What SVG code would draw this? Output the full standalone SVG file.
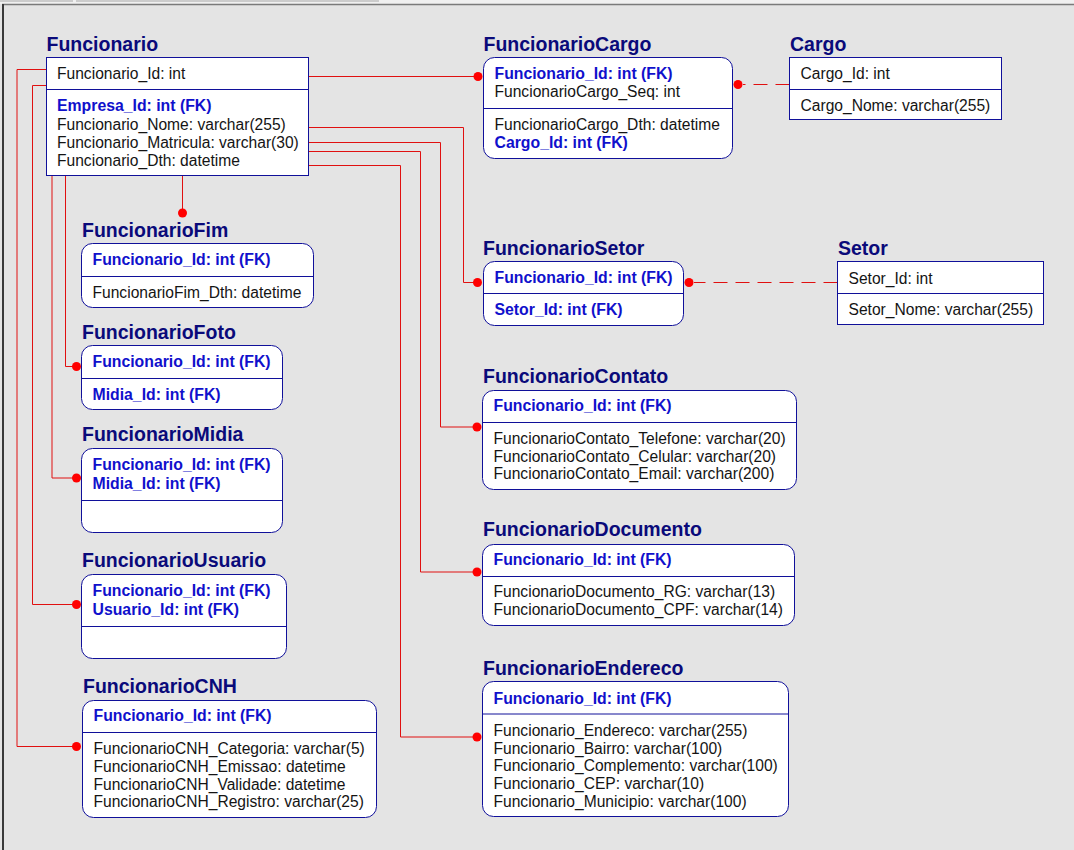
<svg xmlns="http://www.w3.org/2000/svg" width="1074" height="850" viewBox="0 0 1074 850">
<style>
.title{font-family:"Liberation Sans",Arial,sans-serif;font-weight:bold;font-size:19.5px;fill:#0a0a7a}
.attr{font-family:"Liberation Sans",Arial,sans-serif;font-size:15.6px;fill:#141414}
.fk{font-family:"Liberation Sans",Arial,sans-serif;font-weight:bold;font-size:15.8px;fill:#1010cc}
.box{fill:#ffffff;stroke:#10109a;stroke-width:1}
.sep{stroke:#10109a;stroke-width:1}
.conn{fill:none;stroke:#e01010;stroke-width:1}
.dash{fill:none;stroke:#e01010;stroke-width:1;stroke-dasharray:14 8}
.dot{fill:#ff0000}
</style>
<rect x="0" y="0" width="1074" height="850" fill="#e4e4e4"/>
<rect x="0" y="0" width="1074" height="4" fill="#f0f0f0"/>
<path d="M0,1 H73 M76,1 H379" stroke="#a8a8a8" stroke-width="1"/>
<line x1="2" y1="4.5" x2="1074" y2="4.5" stroke="#7a7a7a" stroke-width="1.5"/>
<rect x="2" y="4" width="2" height="846" fill="#3a3a3a"/>

<g id="connectors">
  <path class="conn" d="M308,76.5 H478"/>
  <circle class="dot" cx="478" cy="76.5" r="4.5"/>
  <path class="conn" d="M308,127.5 H463.5 V282.5 H477"/>
  <circle class="dot" cx="477.5" cy="282.5" r="4.5"/>
  <path class="conn" d="M308,142.5 H440.5 V427 H477"/>
  <circle class="dot" cx="477" cy="427" r="4.5"/>
  <path class="conn" d="M308,151.5 H420.5 V572 H477"/>
  <circle class="dot" cx="477" cy="572" r="4.5"/>
  <path class="conn" d="M308,165.5 H400.5 V737 H477"/>
  <circle class="dot" cx="477" cy="737" r="4.5"/>
  <path class="conn" d="M182.5,175 V213"/>
  <circle class="dot" cx="182.5" cy="213" r="4.5"/>
  <path class="conn" d="M65.5,175 V366.5 H76"/>
  <circle class="dot" cx="76.5" cy="366.5" r="4.5"/>
  <path class="conn" d="M52,175 V478 H76"/>
  <circle class="dot" cx="76.5" cy="478" r="4.5"/>
  <path class="conn" d="M46,85.5 H32.5 V604.5 H76"/>
  <circle class="dot" cx="76.5" cy="604.5" r="4.5"/>
  <path class="conn" d="M46,69.5 H17 V746.5 H76"/>
  <circle class="dot" cx="76.5" cy="746.5" r="4.5"/>
  <path class="dash" d="M789.5,84.5 H743"/>
  <circle class="dot" cx="738" cy="84.5" r="4.5"/>
  <path class="dash" d="M837.5,282.5 H694"/>
  <circle class="dot" cx="689" cy="282.5" r="4.5"/>
</g>

<g id="Funcionario">
  <text class="title" x="46.5" y="51">Funcionario</text>
  <rect class="box" x="46.5" y="57.5" width="262" height="118"/>
  <line class="sep" x1="46.5" y1="89.5" x2="308.5" y2="89.5"/>
  <text class="attr" x="57" y="79">Funcionario_Id: int</text>
  <text class="fk" x="57" y="111">Empresa_Id: int (FK)</text>
  <text class="attr" x="57" y="129.5">Funcionario_Nome: varchar(255)</text>
  <text class="attr" x="57" y="147.5">Funcionario_Matricula: varchar(30)</text>
  <text class="attr" x="57" y="165.5">Funcionario_Dth: datetime</text>
</g>

<g id="FuncionarioCargo">
  <text class="title" x="483.5" y="51">FuncionarioCargo</text>
  <rect class="box" x="483.5" y="57.5" width="249" height="101" rx="11"/>
  <line class="sep" x1="483.5" y1="108.5" x2="732.5" y2="108.5"/>
  <text class="fk" x="494.5" y="78.5">Funcionario_Id: int (FK)</text>
  <text class="attr" x="494.5" y="96.5">FuncionarioCargo_Seq: int</text>
  <text class="attr" x="494.5" y="129.5">FuncionarioCargo_Dth: datetime</text>
  <text class="fk" x="494.5" y="147.5">Cargo_Id: int (FK)</text>
</g>

<g id="Cargo">
  <text class="title" x="790" y="51">Cargo</text>
  <rect class="box" x="789.5" y="57.5" width="212" height="62"/>
  <line class="sep" x1="789.5" y1="89.5" x2="1001.5" y2="89.5"/>
  <text class="attr" x="800.5" y="78.5">Cargo_Id: int</text>
  <text class="attr" x="800.5" y="110.5">Cargo_Nome: varchar(255)</text>
</g>

<g id="FuncionarioSetor">
  <text class="title" x="483" y="255">FuncionarioSetor</text>
  <rect class="box" x="483.5" y="261.5" width="200" height="64" rx="11"/>
  <line class="sep" x1="483.5" y1="293.5" x2="683.5" y2="293.5"/>
  <text class="fk" x="494.5" y="283">Funcionario_Id: int (FK)</text>
  <text class="fk" x="494.5" y="315">Setor_Id: int (FK)</text>
</g>

<g id="Setor">
  <text class="title" x="838" y="255">Setor</text>
  <rect class="box" x="837.5" y="261.5" width="206" height="63"/>
  <line class="sep" x1="837.5" y1="293.5" x2="1043.5" y2="293.5"/>
  <text class="attr" x="848.5" y="283.5">Setor_Id: int</text>
  <text class="attr" x="848.5" y="315">Setor_Nome: varchar(255)</text>
</g>

<g id="FuncionarioFim">
  <text class="title" x="82" y="236.5">FuncionarioFim</text>
  <rect class="box" x="81.5" y="243.5" width="232" height="64" rx="11"/>
  <line class="sep" x1="81.5" y1="276.5" x2="313.5" y2="276.5"/>
  <text class="fk" x="92.5" y="264.5">Funcionario_Id: int (FK)</text>
  <text class="attr" x="92.5" y="298">FuncionarioFim_Dth: datetime</text>
</g>

<g id="FuncionarioFoto">
  <text class="title" x="82" y="338.5">FuncionarioFoto</text>
  <rect class="box" x="81.5" y="345.5" width="201" height="64" rx="11"/>
  <line class="sep" x1="81.5" y1="378.5" x2="282.5" y2="378.5"/>
  <text class="fk" x="92.5" y="366.5">Funcionario_Id: int (FK)</text>
  <text class="fk" x="92.5" y="400">Midia_Id: int (FK)</text>
</g>

<g id="FuncionarioMidia">
  <text class="title" x="82" y="441">FuncionarioMidia</text>
  <rect class="box" x="81.5" y="448.5" width="201" height="84" rx="11"/>
  <line class="sep" x1="81.5" y1="500.5" x2="282.5" y2="500.5"/>
  <text class="fk" x="92.5" y="470">Funcionario_Id: int (FK)</text>
  <text class="fk" x="92.5" y="488.5">Midia_Id: int (FK)</text>
</g>

<g id="FuncionarioUsuario">
  <text class="title" x="82" y="567">FuncionarioUsuario</text>
  <rect class="box" x="81.5" y="574.5" width="205" height="84" rx="11"/>
  <line class="sep" x1="81.5" y1="626.5" x2="286.5" y2="626.5"/>
  <text class="fk" x="92.5" y="596">Funcionario_Id: int (FK)</text>
  <text class="fk" x="92.5" y="614.5">Usuario_Id: int (FK)</text>
</g>

<g id="FuncionarioCNH">
  <text class="title" x="83" y="692.5">FuncionarioCNH</text>
  <rect class="box" x="82.5" y="700.5" width="294" height="117" rx="11"/>
  <line class="sep" x1="82.5" y1="732.5" x2="376.5" y2="732.5"/>
  <text class="fk" x="93.5" y="720.5">Funcionario_Id: int (FK)</text>
  <text class="attr" x="93.5" y="754">FuncionarioCNH_Categoria: varchar(5)</text>
  <text class="attr" x="93.5" y="771.8">FuncionarioCNH_Emissao: datetime</text>
  <text class="attr" x="93.5" y="789.5">FuncionarioCNH_Validade: datetime</text>
  <text class="attr" x="93.5" y="807.3">FuncionarioCNH_Registro: varchar(25)</text>
</g>

<g id="FuncionarioContato">
  <text class="title" x="483" y="382.5">FuncionarioContato</text>
  <rect class="box" x="482.5" y="390.5" width="314" height="99" rx="11"/>
  <line class="sep" x1="482.5" y1="422.5" x2="796.5" y2="422.5"/>
  <text class="fk" x="493.5" y="411">Funcionario_Id: int (FK)</text>
  <text class="attr" x="493.5" y="444">FuncionarioContato_Telefone: varchar(20)</text>
  <text class="attr" x="493.5" y="461.7">FuncionarioContato_Celular: varchar(20)</text>
  <text class="attr" x="493.5" y="479.3">FuncionarioContato_Email: varchar(200)</text>
</g>

<g id="FuncionarioDocumento">
  <text class="title" x="483" y="536">FuncionarioDocumento</text>
  <rect class="box" x="482.5" y="544.5" width="312" height="81" rx="11"/>
  <line class="sep" x1="482.5" y1="576.5" x2="794.5" y2="576.5"/>
  <text class="fk" x="493.5" y="564.5">Funcionario_Id: int (FK)</text>
  <text class="attr" x="493.5" y="597.3">FuncionarioDocumento_RG: varchar(13)</text>
  <text class="attr" x="493.5" y="615">FuncionarioDocumento_CPF: varchar(14)</text>
</g>

<g id="FuncionarioEndereco">
  <text class="title" x="483" y="674.5">FuncionarioEndereco</text>
  <rect class="box" x="482.5" y="681.5" width="306" height="135" rx="11"/>
  <line class="sep" x1="482.5" y1="714" x2="788.5" y2="714"/>
  <text class="fk" x="493.5" y="703.5">Funcionario_Id: int (FK)</text>
  <text class="attr" x="493.5" y="736">Funcionario_Endereco: varchar(255)</text>
  <text class="attr" x="493.5" y="753.5">Funcionario_Bairro: varchar(100)</text>
  <text class="attr" x="493.5" y="771">Funcionario_Complemento: varchar(100)</text>
  <text class="attr" x="493.5" y="789">Funcionario_CEP: varchar(10)</text>
  <text class="attr" x="493.5" y="806.7">Funcionario_Municipio: varchar(100)</text>
</g>
</svg>
